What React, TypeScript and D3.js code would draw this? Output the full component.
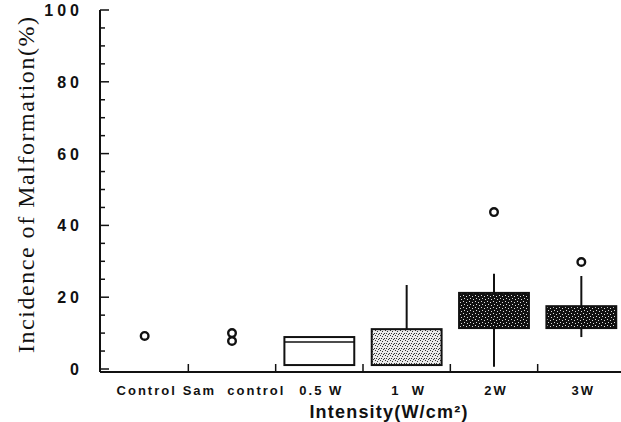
import { useEffect, useRef } from 'react';
import * as d3 from 'd3';

// categorias y etiquetas
const categories = ['Control', 'Sam control', '0.5W', '1W', '2W', '3W'];
const xLabels = ['Control', 'Sam  control', '0.5 W', '1  W', '2W', '3W'];
const yTicks = [0, 20, 40, 60, 80, 100];

// valores de las cajas (%), null = no se dibuja
const q1 = [null, null, 1.1, 1.1, 11.4, 11.4];
const medians = [null, null, 7.5, null, null, null];
const q3 = [null, null, 8.9, 11.1, 21.2, 17.5];
const whiskerLow = [null, null, null, null, 0.6, 8.9];
const whiskerHigh = [null, null, null, 23.4, 26.5, 25.9];
const outliers = [[9.2], [10.0, 7.8], [], [], [43.7], [29.8]];
const fills = ['none', 'none', '#fff', 'url(#stipple)', 'url(#speckle)', 'url(#speckle)'];

const App = () => {
  const svgRef = useRef<SVGSVGElement>(null);

  useEffect(() => {
    const width = 621;
    const height = 422;
    const svg = d3.select(svgRef.current);
    svg.selectAll('*').remove();
    svg.attr('width', width).attr('height', height);

    // patrones de textura
    const defs = svg.append('defs');
    const st = defs.append('pattern').attr('id', 'stipple').attr('width', 5).attr('height', 5)
      .attr('patternUnits', 'userSpaceOnUse');
    st.append('rect').attr('width', 5).attr('height', 5).attr('fill', '#eaeaea');
    [[0, 0], [2, 1], [4, 3], [1, 3], [3, 4]].forEach(([a, b]) =>
      st.append('rect').attr('x', a).attr('y', b).attr('width', 1).attr('height', 1).attr('fill', '#333'));
    const sp = defs.append('pattern').attr('id', 'speckle').attr('width', 6).attr('height', 6)
      .attr('patternUnits', 'userSpaceOnUse');
    sp.append('rect').attr('width', 6).attr('height', 6).attr('fill', '#111');
    [[1, 1], [4, 2], [2, 4], [5, 5]].forEach(([a, b]) =>
      sp.append('rect').attr('x', a).attr('y', b).attr('width', 1).attr('height', 1).attr('fill', '#ddd'));

    // Escalas
    const x = d3.scaleBand().domain(categories).range([101, 625]).padding(0);
    const y = d3.scaleLinear().domain([0, 100]).range([369, 10]);
    const boxW = x.bandwidth() * 0.8;

    const ink = '#111';

    // Eje Y
    const yAxis = svg.append('g').attr('transform', 'translate(100,0)');
    yAxis.append('line').attr('x1', 0).attr('x2', 0).attr('y1', 10).attr('y2', 372)
      .attr('stroke', ink).attr('stroke-width', 2);
    d3.range(0, 101, 5).forEach((v) => {
      yAxis.append('line').attr('x1', 0).attr('x2', v % 20 === 0 ? 9 : 5)
        .attr('y1', y(v)).attr('y2', y(v)).attr('stroke', ink).attr('stroke-width', 1.5);
    });
    yAxis.selectAll('text.tick').data(yTicks).enter().append('text')
      .attr('x', -17).attr('y', (d) => y(d) + 6)
      .attr('text-anchor', 'end')
      .style('font-family', 'Liberation Sans, Arial, sans-serif')
      .style('font-size', '16px').style('font-weight', 'bold')
      .style('letter-spacing', '4px')
      .attr('fill', ink)
      .text((d) => d);

    // Eje X
    svg.append('line').attr('x1', 100).attr('x2', 621).attr('y1', 372).attr('y2', 372)
      .attr('stroke', ink).attr('stroke-width', 2);
    categories.slice(1).forEach((c) => {
      svg.append('line').attr('x1', x(c)).attr('x2', x(c)).attr('y1', 372).attr('y2', 364)
        .attr('stroke', ink).attr('stroke-width', 1.5);
    });
    svg.selectAll('text.xl').data(categories).enter().append('text')
      .attr('x', (d) => x(d) + x.bandwidth() / 2 + 2)
      .attr('y', 395)
      .attr('text-anchor', 'middle')
      .style('font-family', 'Liberation Sans, Arial, sans-serif')
      .style('font-size', '13px').style('font-weight', 'bold')
      .style('letter-spacing', '2px')
      .style('white-space', 'pre')
      .attr('fill', ink)
      .text((d, i) => xLabels[i]);

    // Cajas
    categories.forEach((c, i) => {
      const cx = x(c) + x.bandwidth() / 2;
      if (whiskerHigh[i] != null) {
        svg.append('line').attr('x1', cx).attr('x2', cx)
          .attr('y1', y(whiskerHigh[i])).attr('y2', y(q3[i]))
          .attr('stroke', ink).attr('stroke-width', 2);
      }
      if (whiskerLow[i] != null) {
        svg.append('line').attr('x1', cx).attr('x2', cx)
          .attr('y1', y(q1[i])).attr('y2', y(whiskerLow[i]))
          .attr('stroke', ink).attr('stroke-width', 2);
      }
      if (q1[i] != null) {
        svg.append('rect')
          .attr('x', cx - boxW / 2).attr('y', y(q3[i]))
          .attr('width', boxW).attr('height', y(q1[i]) - y(q3[i]))
          .attr('fill', fills[i]).attr('stroke', ink).attr('stroke-width', 2);
      }
      if (medians[i] != null) {
        svg.append('line').attr('x1', cx - boxW / 2).attr('x2', cx + boxW / 2)
          .attr('y1', y(medians[i])).attr('y2', y(medians[i]))
          .attr('stroke', ink).attr('stroke-width', 1.5);
      }
      outliers[i].forEach((v) => {
        svg.append('circle').attr('cx', cx).attr('cy', y(v)).attr('r', 3.8)
          .attr('fill', 'none').attr('stroke', ink).attr('stroke-width', 2.4);
      });
    });

    // Titulos
    svg.append('text')
      .attr('x', 389).attr('y', 418)
      .attr('text-anchor', 'middle')
      .style('font-family', 'Liberation Sans, Arial, sans-serif')
      .style('font-size', '18px').style('font-weight', 'bold')
      .style('letter-spacing', '1.2px')
      .attr('fill', ink)
      .text('Intensity(W/cm²)');

    svg.append('text')
      .attr('transform', 'translate(34,185) rotate(-90)')
      .attr('text-anchor', 'middle')
      .style('font-family', 'Liberation Serif, Times New Roman, serif')
      .style('font-size', '24px')
      .attr('textLength', 336).attr('lengthAdjust', 'spacing')
      .attr('fill', ink)
      .text('Incidence of Malformation(%)');
  }, []);

  return <svg ref={svgRef} style={{ position: 'absolute', left: 0, top: 0, background: '#fff' }}></svg>;
};

export default App;
